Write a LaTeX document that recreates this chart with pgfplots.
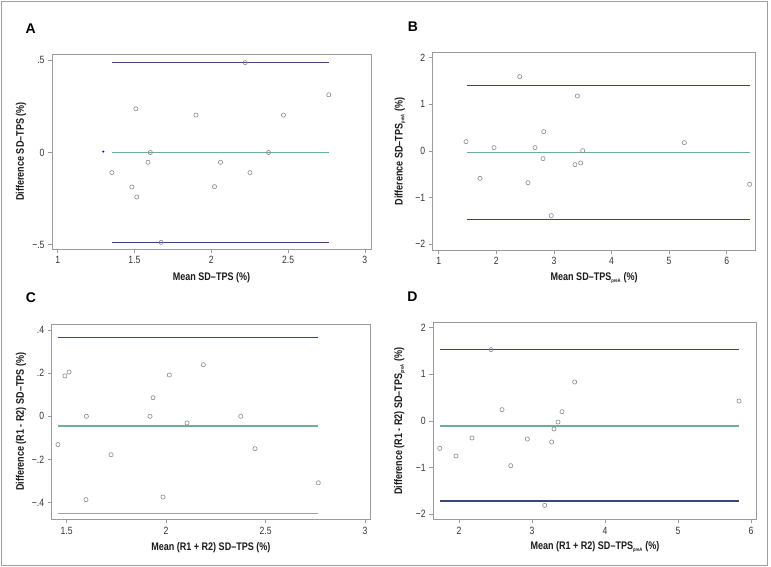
\documentclass[border=0pt]{standalone}
\usepackage{pgfplots}
\pgfplotsset{compat=1.18}
\usepackage{fontspec}
\setmainfont{Liberation Sans}
\newfontfamily\narrow[FakeStretch=0.82]{Liberation Sans}
\definecolor{navyl}{HTML}{3A4670}
\definecolor{greenl}{HTML}{6FAE96}
\definecolor{framec}{HTML}{9A9A9A}
\definecolor{markc}{HTML}{8A8A8A}
\definecolor{lowc}{HTML}{9AA0B4}
\definecolor{textc}{HTML}{333333}
\pgfplotsset{
  myPts/.style={only marks, mark=o, mark size=2.1bp, draw=markc, mark options={solid, line width=0.6bp, draw=markc}},
  myLim/.style={no marks, draw=navyl, line width=1.5bp},
  myAvg/.style={no marks, draw=greenl, line width=1.4bp},
  ba/.style={
  scale only axis,
  axis line style={draw=framec, line width=0.9bp},
  tick style={draw=framec, line width=0.7bp},
  tick align=outside, major tick length=4bp,
  tick pos=left,
  ticklabel style={font=\fontsize{10.5bp}{12bp}\narrow, text=textc},
  label style={font=\fontsize{11bp}{12bp}\narrow\bfseries, text=black!90},
  clip=false,
}}
\newcommand{\pre}{\textsubscript{\fontsize{5bp}{6bp}\selectfont preA}}
\begin{document}
\begin{tikzpicture}
\path[use as bounding box] (0,0) rectangle (771bp,-567bp);
\draw[draw=gray!75, line width=1bp] (1bp,-1bp) rectangle (767.5bp,-565bp);
\node[font=\fontsize{14bp}{15bp}\selectfont\bfseries] at (30.7bp,-29bp) {A};
\node[font=\fontsize{14bp}{15bp}\selectfont\bfseries] at (413bp,-27bp) {B};
\node[font=\fontsize{14bp}{15bp}\selectfont\bfseries] at (31bp,-298bp) {C};
\node[font=\fontsize{14bp}{15bp}\selectfont\bfseries] at (412.5bp,-297bp) {D};

% Panel A
\begin{axis}[ba, at={(52bp,-249bp)}, anchor=south west, width=319bp, height=195bp,
  xmin=0.963, xmax=3.04, ymin=-0.523, ymax=0.534,
  xtick={1,1.5,2,2.5,3}, xticklabels={1,1.5,2,2.5,3},
  ytick={-0.5,0,0.5}, yticklabels={−.5,0,.5},
  xlabel={Mean SD–TPS (\%)}, ylabel={Difference SD–TPS (\%)},
  x label style={at={(axis description cs:0.5,-0.149)}, anchor=center},
  y label style={at={(axis description cs:-0.097,0.5)}, anchor=center}]
\addplot[myLim] coordinates {(1.353,0.489) (2.765,0.489)};
\addplot[myLim] coordinates {(1.353,-0.489) (2.765,-0.489)};
\addplot[myAvg] coordinates {(1.353,0) (2.765,0)};
\addplot[only marks, mark=*, mark size=0.8bp, draw=blue, fill=blue] coordinates {(1.297,0.005)};
\addplot[myPts] coordinates {(1.353,-0.109) (1.509,0.237) (1.483,-0.187) (1.515,-0.241)
 (1.588,-0.053) (1.603,0) (1.674,-0.487) (1.900,0.203) (2.021,-0.185) (2.060,-0.053)
 (2.221,0.487) (2.252,-0.109) (2.373,0) (2.470,0.203) (2.765,0.313)};
\end{axis}

% Panel B
\begin{axis}[ba, at={(432.7bp,-250bp)}, anchor=south west, width=323bp, height=197.7bp,
  xmin=0.896, xmax=6.503, ymin=-2.122, ymax=2.115,
  xtick={1,2,3,4,5,6}, xticklabels={1,2,3,4,5,6},
  ytick={-2,-1,0,1,2}, yticklabels={−2,−1,0,1,2},
  xlabel={Mean SD–TPS\pre\ (\%)}, ylabel={Difference SD–TPS\pre\ (\%)},
  x label style={at={(axis description cs:0.5,-0.142)}, anchor=center},
  y label style={at={(axis description cs:-0.101,0.5)}, anchor=center}]
\addplot[myLim] coordinates {(1.486,1.40) (6.404,1.40)};
\addplot[myLim] coordinates {(1.486,-1.473) (6.404,-1.473)};
\addplot[myAvg] coordinates {(1.486,-0.029) (6.404,-0.029)};
\addplot[myPts] coordinates {(1.474,0.2) (1.717,-0.586) (1.960,0.072) (2.406,1.593)
 (2.550,-0.679) (2.672,0.072) (2.811,-0.164) (2.823,0.414) (2.955,-1.386)
 (3.366,-0.293) (3.407,1.179) (3.465,-0.257) (3.500,0.007) (5.264,0.179) (6.399,-0.714)};
\end{axis}

% Panel C
\begin{axis}[ba, at={(51.7bp,-519.3bp)}, anchor=south west, width=318.3bp, height=195bp,
  xmin=1.4246, xmax=3.025, ymin=-0.477, ymax=0.426,
  xtick={1.5,2,2.5,3}, xticklabels={1.5,2,2.5,3},
  ytick={-0.4,-0.2,0,0.2,0.4}, yticklabels={−.4,−.2,0,.2,.4},
  xlabel={Mean (R1 + R2) SD–TPS (\%)}, ylabel={Difference (R1 - R2) SD–TPS (\%)},
  x label style={at={(axis description cs:0.5,-0.144)}, anchor=center},
  y label style={at={(axis description cs:-0.0965,0.5)}, anchor=center}]
\addplot[myLim] coordinates {(1.456,0.364) (2.765,0.364)};
\addplot[no marks, draw=lowc, line width=1.8bp] coordinates {(1.456,-0.45) (2.765,-0.45)};
\addplot[myAvg, line width=2bp] coordinates {(1.456,-0.0435) (2.765,-0.0435)};
\addplot[myPts] coordinates {(1.456,-0.131) (1.491,0.187) (1.512,0.205) (1.599,0)
 (1.597,-0.386) (1.723,-0.178) (1.919,0) (1.934,0.086) (1.984,-0.374) (2.016,0.191)
 (2.105,-0.031) (2.187,0.239) (2.375,0) (2.447,-0.150) (2.765,-0.308)};
\end{axis}

% Panel D
\begin{axis}[ba, at={(433.3bp,-519.3bp)}, anchor=south west, width=323.4bp, height=196.6bp,
  xmin=1.648, xmax=6.078, ymin=-2.107, ymax=2.107,
  xtick={2,3,4,5,6}, xticklabels={2,3,4,5,6},
  ytick={-2,-1,0,1,2}, yticklabels={−2,−1,0,1,2},
  xlabel={Mean (R1 + R2) SD–TPS\pre\ (\%)}, ylabel={Difference (R1 - R2) SD–TPS\pre\ (\%)},
  x label style={at={(axis description cs:0.5,-0.141)}, anchor=center},
  y label style={at={(axis description cs:-0.1045,0.5)}, anchor=center}]
\addplot[myLim] coordinates {(1.736,1.529) (5.836,1.529)};
\addplot[myLim] coordinates {(1.736,-1.715) (5.836,-1.715)};
\addplot[myAvg, line width=2bp] coordinates {(1.736,-0.1) (5.836,-0.1)};
\addplot[myPts] coordinates {(1.736,-0.586) (1.959,-0.750) (2.178,-0.364) (2.438,1.529)
 (2.589,0.243) (2.708,-0.957) (2.936,-0.386) (3.174,-1.808) (3.269,-0.45)
 (3.301,-0.171) (3.356,-0.021) (3.411,0.2) (3.584,0.836) (5.836,0.429)};
\end{axis}
\end{tikzpicture}
\end{document}
